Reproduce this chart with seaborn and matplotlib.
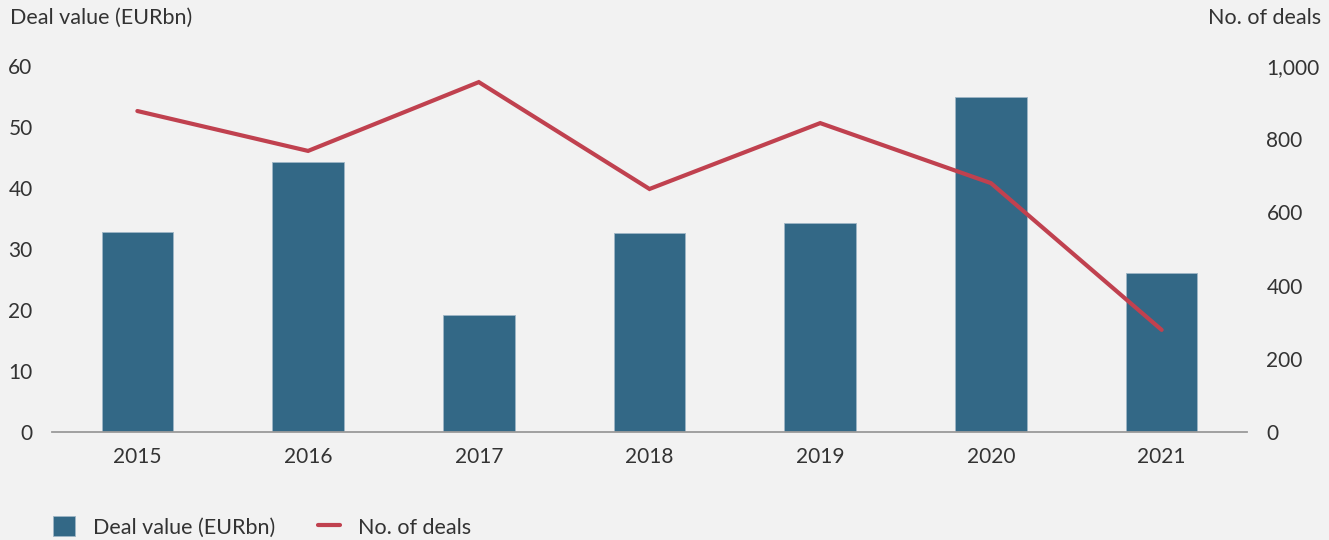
import matplotlib
matplotlib.use("Agg")
import matplotlib.pyplot as plt
import seaborn as sns
import numpy as np
import pandas as pd
from matplotlib.patches import Patch
from matplotlib.lines import Line2D

years = ["2015", "2016", "2017", "2018", "2019", "2020", "2021"]
deal_value = [32.8, 44.3, 19.2, 32.6, 34.3, 54.9, 26.1]
deal_count = [877, 768, 956, 664, 844, 680, 279]
left_ticks = [0, 10, 20, 30, 40, 50, 60]
right_ticks = [0, 200, 400, 600, 800, 1000]

BG = "#f2f2f2"
BAR = "#336886"
LINE = "#c0414f"
TXT = "#333333"
FS = 15.5

sns.set_theme(style="white")
plt.rcParams["font.family"] = ["Lato", "DejaVu Sans"]

df = pd.DataFrame({"year": years, "value": deal_value, "deals": deal_count,
                   "pos": np.arange(len(years))})

fig = plt.figure(figsize=(13.29, 5.4), dpi=100, facecolor=BG)
ax = fig.add_axes([52 / 1329, 1 - 432 / 540, (1247 - 52) / 1329, (432 - 66) / 540])
ax.set_facecolor(BG)

sns.barplot(data=df, x="year", y="value", color=BAR, width=0.42, saturation=1,
            edgecolor="#9fb6c6", linewidth=0.6, ax=ax)
ax.set_xlim(-0.5, len(years) - 0.5)
ax.set_ylim(0, 60)
ax.set_yticks(left_ticks)
ax.set_xlabel("")
ax.set_ylabel("")

ax2 = ax.twinx()
sns.lineplot(data=df, x="pos", y="deals", color=LINE, linewidth=3.0, ax=ax2,
             solid_joinstyle="miter")
ax2.set_ylim(0, 1000)
ax2.set_yticks(right_ticks)
ax2.set_yticklabels([f"{t:,}" for t in right_ticks])
ax2.set_xlim(-0.5, len(years) - 0.5)
ax2.set_ylabel("")
ax2.set_xlabel("")

for a in (ax, ax2):
    for s in a.spines.values():
        s.set_visible(False)
ax.spines["bottom"].set_visible(True)
ax.spines["bottom"].set_color("#9a9a9a")
ax.spines["bottom"].set_linewidth(1.3)

ax.tick_params(axis="y", length=0, pad=14, labelsize=FS - 0.5, labelcolor=TXT)
ax.tick_params(axis="x", length=0, pad=11, labelsize=FS - 0.5, labelcolor=TXT)
ax2.tick_params(axis="y", length=0, pad=14, labelsize=FS - 0.5, labelcolor=TXT)
ax2.tick_params(axis="x", length=0, labelbottom=False)

fig.text(10 / 1329, 1 - 18 / 540, "Deal value (EURbn)", fontsize=FS, color=TXT,
         ha="left", va="center")
fig.text(1321 / 1329, 1 - 18 / 540, "No. of deals", fontsize=FS, color=TXT,
         ha="right", va="center")

handles = [Patch(facecolor=BAR, edgecolor="#9fb6c6", linewidth=0.6),
           Line2D([0], [0], color=LINE, linewidth=3.0)]
leg = fig.legend(handles, ["Deal value (EURbn)", "No. of deals"], loc="center left",
                 bbox_to_anchor=(36 / 1329, 1 - 527 / 540), ncol=2, frameon=False,
                 fontsize=FS, handlelength=1.0, handleheight=1.0, handletextpad=0.85,
                 columnspacing=2.0, labelcolor=TXT, borderpad=0.3)

fig.savefig("out.png", dpi=100, facecolor=BG)
